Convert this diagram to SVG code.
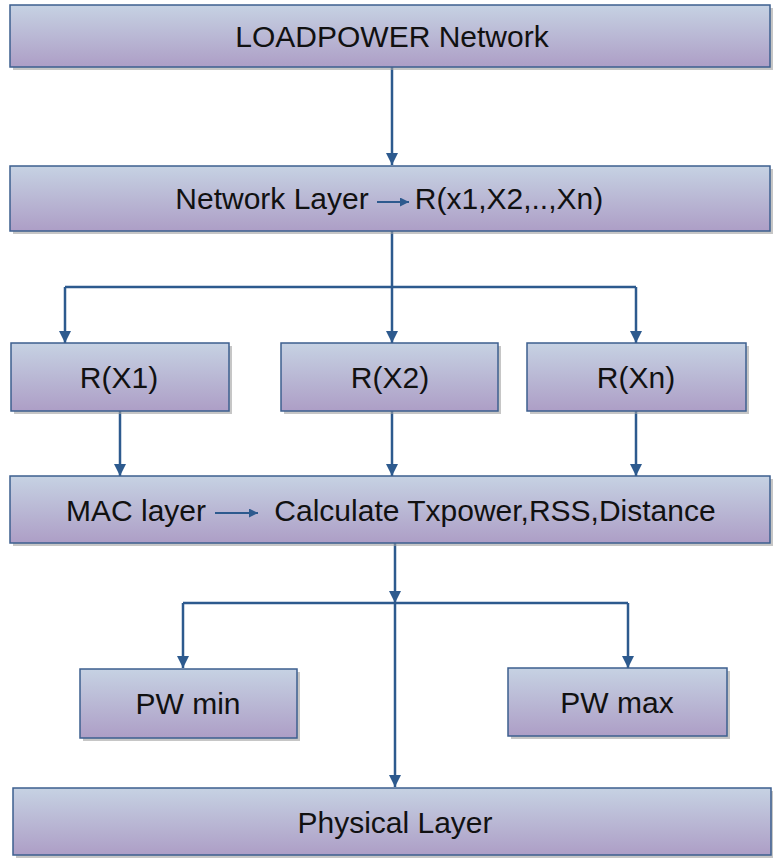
<svg xmlns="http://www.w3.org/2000/svg" width="773" height="859" viewBox="0 0 773 859">
<style>
.box{fill:url(#g);stroke:#3d5f8f;stroke-width:1.5}
.sh{fill:#a0a0a0;opacity:0.6}
.t{font-family:"Liberation Sans",Arial,sans-serif;font-size:30px;fill:#111;text-anchor:middle}
.c{fill:none;stroke:#2d5a8e;stroke-width:2.5}
.ca{fill:none;stroke:#2d5a8e;stroke-width:2.5;marker-end:url(#ah)}
.ia{fill:none;stroke:#2d5a8e;stroke-width:2;marker-end:url(#sh)}
</style>
<defs>
<linearGradient id="g" x1="0" y1="0" x2="0" y2="1">
<stop offset="0" stop-color="#c6d2e3"/>
<stop offset="1" stop-color="#ad9ec6"/>
</linearGradient>
<marker id="ah" markerUnits="userSpaceOnUse" markerWidth="12" markerHeight="12" refX="12" refY="6" orient="auto">
<path d="M0,0 L12,6 L0,12 z" fill="#2d5a8e"/>
</marker>
<marker id="sh" markerUnits="userSpaceOnUse" markerWidth="9" markerHeight="9" refX="9" refY="4.5" orient="auto">
<path d="M0,0 L9,4.5 L0,9 z" fill="#2d5a8e"/>
</marker>
</defs>
<rect width="773" height="859" fill="#fff"/>
<g id="connectors">
<path class="ca" d="M392,67 V165"/>
<path class="c" d="M392,231 V287 M65,287 H636"/>
<path class="ca" d="M65,287 V343"/>
<path class="ca" d="M392,287 V343"/>
<path class="ca" d="M636,287 V343"/>
<path class="ca" d="M120,411 V476"/>
<path class="ca" d="M392,411 V476"/>
<path class="ca" d="M636,411 V476"/>
<path class="ca" d="M395,543 V603"/>
<path class="c" d="M183,603 H628"/>
<path class="ca" d="M183,603 V668"/>
<path class="ca" d="M628,603 V668"/>
<path class="ca" d="M395,603 V787"/>
</g>
<g id="loadpower">
<rect class="sh" x="13" y="8" width="760" height="62"/>
<rect class="box" x="10" y="5" width="760" height="62"/>
<text class="t" x="392" y="47">LOADPOWER Network</text>
</g>
<g id="network-layer">
<rect class="sh" x="13" y="169" width="760" height="65"/>
<rect class="box" x="10" y="166" width="760" height="65"/>
<text class="t" x="272" y="209">Network Layer</text>
<path class="ia" d="M377,202 H409"/>
<text class="t" x="509" y="209">R(x1,X2,..,Xn)</text>
</g>
<g id="rx1">
<rect class="sh" x="14" y="346" width="218" height="68"/>
<rect class="box" x="11" y="343" width="218" height="68"/>
<text class="t" x="119" y="388">R(X1)</text>
</g>
<g id="rx2">
<rect class="sh" x="284" y="346" width="217" height="68"/>
<rect class="box" x="281" y="343" width="217" height="68"/>
<text class="t" x="390" y="388">R(X2)</text>
</g>
<g id="rxn">
<rect class="sh" x="530" y="346" width="219" height="68"/>
<rect class="box" x="527" y="343" width="219" height="68"/>
<text class="t" x="636" y="388">R(Xn)</text>
</g>
<g id="mac-layer">
<rect class="sh" x="13" y="479" width="760" height="67"/>
<rect class="box" x="10" y="476" width="760" height="67"/>
<text class="t" x="136" y="521">MAC layer</text>
<path class="ia" d="M215,513 H258"/>
<text class="t" x="495" y="521">Calculate Txpower,RSS,Distance</text>
</g>
<g id="pw-min">
<rect class="sh" x="83" y="672" width="217" height="69"/>
<rect class="box" x="80" y="669" width="217" height="69"/>
<text class="t" x="188" y="714">PW min</text>
</g>
<g id="pw-max">
<rect class="sh" x="511" y="671" width="219" height="68"/>
<rect class="box" x="508" y="668" width="219" height="68"/>
<text class="t" x="617" y="713">PW max</text>
</g>
<g id="physical-layer">
<rect class="sh" x="16" y="791" width="758" height="67"/>
<rect class="box" x="13" y="788" width="758" height="67"/>
<text class="t" x="395" y="833">Physical Layer</text>
</g>
</svg>
